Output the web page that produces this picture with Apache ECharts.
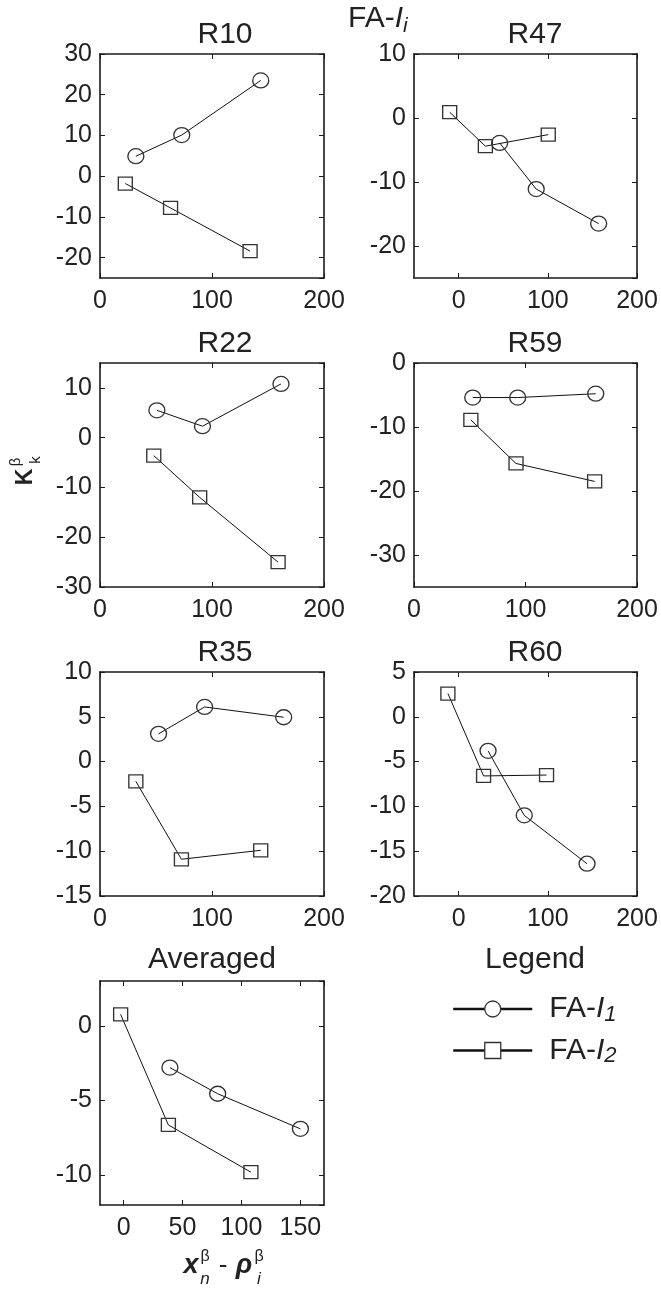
<!DOCTYPE html>
<html><head><meta charset="utf-8">
<script src="https://cdn.jsdelivr.net/npm/echarts@6/dist/echarts.min.js"></script>
<style>html,body{margin:0;padding:0;background:#fff}#c{width:661px;height:1290px}</style>
</head><body><div id="c"></div>
<script>
// ---- data ----
const panelTitles = ['R10', 'R47', 'R22', 'R59', 'R35', 'R60', 'Averaged'];
const seriesNames = ['FA-I1', 'FA-I2'];
const r10I1 = [[32, 4.9], [73, 10.1], [143.5, 23.5]];
const r10I2 = [[22.6, -1.8], [63, -7.8], [134, -18.4]];
const r47I1 = [[46, -3.9], [87, -11.1], [157, -16.5]];
const r47I2 = [[-10, 0.9], [30, -4.4], [100.5, -2.6]];
const r22I1 = [[50.8, 5.5], [91.5, 2.3], [161.6, 10.8]];
const r22I2 = [[48, -3.6], [89, -12], [159, -25]];
const r59I1 = [[52.7, -5.4], [93, -5.4], [163, -4.8]];
const r59I2 = [[51, -8.9], [91.5, -15.7], [162, -18.5]];
const r35I1 = [[52.3, 3.1], [93.4, 6.1], [164, 4.95]];
const r35I2 = [[32, -2.2], [72.7, -10.9], [143.5, -9.9]];
const r60I1 = [[33, -3.8], [73.6, -11.0], [144, -16.4]];
const r60I2 = [[-12, 2.6], [28, -6.6], [98.6, -6.5]];
const avgI1 = [[39.3, -2.8], [79.8, -4.55], [150, -6.9]];
const avgI2 = [[-2.5, 0.76], [38, -6.64], [108, -9.8]];
const xMin = [0, -50, 0, 0, 0, -50, -20];
const xMax = [200, 200, 200, 200, 200, 200, 170];
const xStep = [100, 100, 100, 100, 100, 100, 50];
const yMin = [-25, -25, -30, -35, -15, -20, -12];
const yMax = [30, 10, 15, 0, 10, 5, 3];
const yStep = [10, 10, 10, 10, 5, 5, 5];
const panelI1 = [r10I1, r47I1, r22I1, r59I1, r35I1, r60I1, avgI1];
const panelI2 = [r10I2, r47I2, r22I2, r59I2, r35I2, r60I2, avgI2];

// ---- layout / style ----
const FONT = "'Liberation Sans', Arial, Helvetica, sans-serif";
const TXT = '#222';
const AX = '#1a1a1a';
const colLeft = [100, 414];
const colW = [224, 223];
const rowTop = [54, 363, 672, 981];
const gridH = 224;
const titleCx = [225, 535];

const grids = [], xAxes = [], yAxes = [], series = [], graphics = [];

function hideEdge(v, step) { return (v % step === 0) ? null : false; }

panelTitles.forEach((name, i) => {
  const col = i % 2, row = Math.floor(i / 2);
  grids.push({ left: colLeft[col], top: rowTop[row], width: colW[col], height: gridH, containLabel: false });
  const tick = { show: true, inside: true, length: 5, lineStyle: { color: AX, width: 1 } };
  const line = { show: true, onZero: false, lineStyle: { color: AX, width: 1.6 } };
  const lbl = { fontSize: 25, color: TXT, fontFamily: FONT };
  ['bottom', 'top'].forEach((pos, k) => {
    xAxes.push({
      type: 'value', gridIndex: i, position: pos, min: xMin[i], max: xMax[i],
      minInterval: xStep[i], maxInterval: xStep[i],
      splitLine: { show: false }, axisLine: line, axisTick: tick,
      axisLabel: Object.assign({ show: k === 0, margin: 11,
        showMinLabel: hideEdge(xMin[i], xStep[i]), showMaxLabel: hideEdge(xMax[i], xStep[i]) }, lbl)
    });
  });
  ['left', 'right'].forEach((pos, k) => {
    yAxes.push({
      type: 'value', gridIndex: i, position: pos, min: yMin[i], max: yMax[i],
      minInterval: yStep[i], maxInterval: yStep[i],
      splitLine: { show: false }, axisLine: line, axisTick: tick,
      axisLabel: Object.assign({ show: k === 0, margin: 8,
        showMinLabel: hideEdge(yMin[i], yStep[i]), showMaxLabel: hideEdge(yMax[i], yStep[i]) }, lbl)
    });
  });
  const common = { type: 'line', xAxisIndex: 2 * i, yAxisIndex: 2 * i, silent: true, animation: false,
    lineStyle: { color: '#111', width: 1 }, z: 3 };
  series.push(Object.assign({}, common, { name: seriesNames[0], data: panelI1[i], symbol: 'circle', symbolSize: [16, 15],
    itemStyle: { color: 'rgba(255,255,255,0)', borderColor: '#333', borderWidth: 1.3 } }));
  series.push(Object.assign({}, common, { name: seriesNames[1], data: panelI2[i], symbol: 'rect', symbolSize: [14, 13],
    itemStyle: { color: 'rgba(255,255,255,0)', borderColor: '#333', borderWidth: 1.3 } }));

  // panel title
  const cx = row < 3 ? titleCx[col] : 212;
  const cy = row < 3 ? rowTop[row] - 19 : 960;
  graphics.push({ type: 'text', silent: true, style: { text: name, x: cx, y: cy, fontSize: 30, fontFamily: FONT, fill: TXT,
    align: 'center', verticalAlign: 'middle', textAlign: 'center', textVerticalAlign: 'middle' } });
});

// "Legend" heading
graphics.push({ type: 'text', silent: true, style: { text: 'Legend', x: 535, y: 960, fontSize: 30, fontFamily: FONT, fill: TXT,
  align: 'center', verticalAlign: 'middle', textAlign: 'center', textVerticalAlign: 'middle' } });

// main title FA-I_i
graphics.push({ type: 'text', silent: true, style: { text: '{a|FA-}{b|I}{c|i}', x: 348, y: 19, fill: TXT,
  align: 'left', verticalAlign: 'middle', textAlign: 'left', textVerticalAlign: 'middle',
  rich: {
    a: { fontSize: 30, fontFamily: FONT, fill: TXT, color: TXT, lineHeight: 36 },
    b: { fontSize: 30, fontFamily: FONT, fontStyle: 'italic', fill: TXT, color: TXT, lineHeight: 36 },
    c: { fontSize: 21, fontFamily: FONT, fontStyle: 'italic', fill: TXT, color: TXT, verticalAlign: 'bottom' }
  } } });

function t(text, x, y, size, extra) {
  return { type: 'text', silent: true, style: Object.assign({ text, x, y, fontSize: size, fontFamily: FONT, fill: TXT,
    align: 'center', verticalAlign: 'middle', textAlign: 'center', textVerticalAlign: 'middle' }, extra || {}) };
}
// y axis title (rotated)
graphics.push({ type: 'group', x: 25.5, y: 477, rotation: Math.PI / 2, silent: true, children: [
  t('K', 0, 0, 23, { fontWeight: 'bold' }),
  t('β', 15, -9.5, 15),
  t('k', 17, 10, 15)
] });

// x axis title
graphics.push({ type: 'group', silent: true, children: [
  t('x', 191, 1266, 27, { fontWeight: 'bold', fontStyle: 'italic' }),
  t('β', 205, 1257, 16),
  t('n', 205, 1279, 17, { fontStyle: 'italic' }),
  t('-', 223, 1266, 26),
  t('ρ', 244, 1266, 27, { fontWeight: 'bold', fontStyle: 'italic' }),
  t('β', 259, 1257, 16),
  t('i', 259, 1279, 17, { fontStyle: 'italic' })
] });

const legendItemStyle = { color: '#fff', borderColor: '#333', borderWidth: 1.3 };
const legendLine = { color: '#111', width: 2.5 };

const option = {
  animation: false,
  backgroundColor: '#fff',
  grid: grids,
  xAxis: xAxes,
  yAxis: yAxes,
  series: series,
  legend: {
    data: seriesNames.map(n => ({ name: n, itemStyle: legendItemStyle, lineStyle: legendLine })),
    orient: 'vertical', left: 452, top: 994, padding: 0, itemWidth: 79, itemHeight: 20, itemGap: 10,
    selectedMode: false,
    formatter: n => '{sp|}{a|FA-}{b|I}{c|' + n.slice(-1) + '}',
    textStyle: {
      color: TXT, fontFamily: FONT, fontSize: 30,
      rich: {
        sp: { width: 12 },
        a: { fontSize: 30, fontFamily: FONT, color: TXT, lineHeight: 33 },
        b: { fontSize: 30, fontFamily: FONT, fontStyle: 'italic', color: TXT, lineHeight: 33 },
        c: { fontSize: 22, fontFamily: FONT, fontStyle: 'italic', color: TXT, verticalAlign: 'bottom' }
      }
    }
  },
  graphic: graphics
};

const chart = echarts.init(document.getElementById('c'), null, { renderer: 'canvas' });
chart.setOption(option);
</script>
</body></html>
